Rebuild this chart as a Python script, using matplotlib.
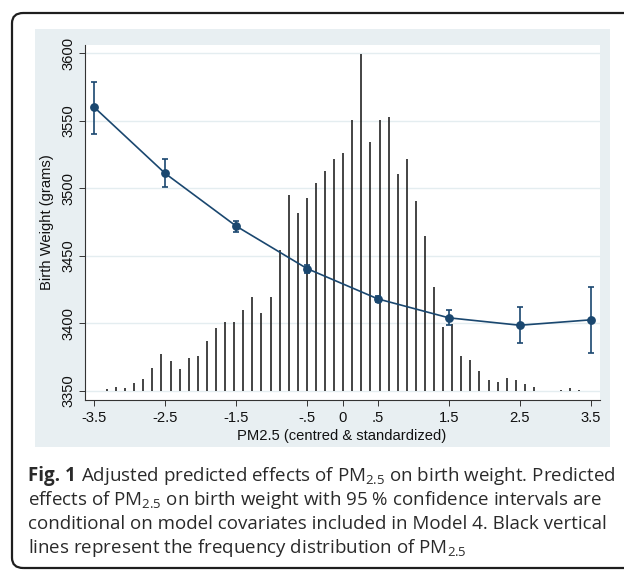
import numpy as np
import matplotlib
matplotlib.use("Agg")
import matplotlib.pyplot as plt
from matplotlib.patches import FancyBboxPatch, Rectangle

# ---------------- data ----------------
pm_levels = [-3.5, -2.5, -1.5, -0.5, 0.5, 1.5, 2.5, 3.5]
pred_bw = [3560, 3511, 3472, 3440.5, 3418, 3404, 3398.5, 3402.5]
ci_low = [3540, 3501, 3467.5, 3437.5, 3415.5, 3398.5, 3385, 3378]
ci_high = [3579, 3521.5, 3476, 3443.5, 3420.5, 3410, 3412, 3426.5]

# frequency distribution of PM2.5 (bar heights, drawn above the 3350 baseline)
hist_start = -3.321
hist_width = 0.1281
hist_freq = [1.3, 2.5, 2.0, 5.8, 9.0, 16.9, 27.0, 22.3, 16.1, 24.0, 25.8, 36.6,
             46.3, 51.0, 51.0, 60.0, 69.1, 57.4, 69.1, 104.5, 145.3, 131.4,
             142.8, 154.2, 162.8, 171.8, 176.5, 200.3, 249.3, 184.4, 200.3,
             203.2, 160.9, 171.8, 140.9, 114.9, 76.7, 47.0, 49.6, 26.0, 22.8,
             14.9, 8.2, 6.7, 9.5, 8.0, 5.2, 2.5, 0.0, 0.0, 0.8, 1.7, 0.3]
hist_base = 3350

xticks = [-3.5, -2.5, -1.5, -0.5, 0, 0.5, 1.5, 2.5, 3.5]
xtick_labels = ["-3.5", "-2.5", "-1.5", "-.5", "0", ".5", "1.5", "2.5", "3.5"]
yticks = [3350, 3400, 3450, 3500, 3550, 3600]

plt.rcParams["mathtext.fontset"] = "custom"
plt.rcParams["mathtext.rm"] = "Open Sans"
plt.rcParams["mathtext.it"] = "Open Sans"
plt.rcParams["mathtext.bf"] = "Open Sans"

# ---------------- figure ----------------
W, H = 624, 571
fig = plt.figure(figsize=(W / 100, H / 100), dpi=100)
fig.patch.set_facecolor("white")

def fx(px):
    return px / W

def fy(py):
    return 1 - py / H

# outer rounded frame
frame = FancyBboxPatch((fx(12), fy(568)), fx(660) - fx(12), fy(13) - fy(568),
                       boxstyle="round,pad=0,rounding_size=0.018",
                       transform=fig.transFigure, facecolor="none",
                       edgecolor="#1e1e1e", linewidth=1.6, zorder=-5)
fig.patches.append(frame)

# Stata graph region
greg = Rectangle((fx(35), fy(447)), fx(610) - fx(35), fy(29) - fy(447),
                 transform=fig.transFigure, facecolor="#e8eff2",
                 edgecolor="none", zorder=-5)
fig.patches.append(greg)

ax = fig.add_axes([fx(85), fy(400), fx(600) - fx(85), fy(45) - fy(400)])
ax.set_zorder(2)
ax.set_facecolor("white")
ax.set_xlim(-3.631, 3.631)
ax.set_ylim(3343.1, 3606.2)

for yt in yticks:
    ax.axhline(yt, color="#e4edf0", linewidth=1.0, zorder=1)

hx = hist_start + hist_width * np.arange(len(hist_freq))
hf = np.array(hist_freq)
mask = hf > 0
ax.vlines(hx[mask], hist_base, hist_base + hf[mask], color="#111111",
          linewidth=1.1, zorder=2)

navy = "#1a476f"
ax.plot(pm_levels, pred_bw, color=navy, linewidth=1.2, zorder=3)
yerr = [np.array(pred_bw) - np.array(ci_low), np.array(ci_high) - np.array(pred_bw)]
ax.errorbar(pm_levels, pred_bw, yerr=yerr, fmt="o", color=navy, ms=5.3,
            elinewidth=1.2, capsize=2.4, capthick=1.2, zorder=4)

for s in ["top", "right"]:
    ax.spines[s].set_visible(False)
for s in ["left", "bottom"]:
    ax.spines[s].set_color("#333333")
    ax.spines[s].set_linewidth(0.8)

ax.set_xticks(xticks)
ax.set_xticklabels(xtick_labels)
ax.set_yticks(yticks)
ax.tick_params(axis="both", direction="out", length=4.5, width=0.7,
               color="#333333", labelsize=10.6, labelcolor="#111111")
ax.tick_params(axis="y", pad=2.5)
ax.tick_params(axis="x", pad=3.5)
for lbl in ax.get_yticklabels() + ax.get_xticklabels():
    lbl.set_fontfamily("Liberation Sans")
for lbl in ax.get_yticklabels():
    lbl.set_rotation(90)
    lbl.set_va("center")

fig.text(fx(47), fy(222), "Birth Weight (grams)", rotation=90, ha="center",
         va="center", fontsize=10.6, family="Liberation Sans", color="#111111")
fig.text(fx(342), fy(436), "PM2.5 (centred & standardized)", ha="center",
         va="center", fontsize=10.6, family="Liberation Sans", color="#111111")

# ---------------- caption ----------------
cap_kw = dict(fontsize=13.5, family="Open Sans", color="#2a2a2a",
              va="baseline", ha="left")
fig.text(fx(28), fy(481), "Fig. 1", fontweight="bold", **cap_kw)
fig.text(fx(81), fy(481),
         r"Adjusted predicted effects of PM$_{\mathrm{2.5}}$ on birth weight. Predicted",
         **cap_kw)
fig.text(fx(28), fy(505),
         r"effects of PM$_{\mathrm{2.5}}$ on birth weight with 95 % confidence intervals are",
         **cap_kw)
fig.text(fx(28), fy(529),
         "conditional on model covariates included in Model 4. Black vertical",
         **cap_kw)
fig.text(fx(28), fy(553),
         r"lines represent the frequency distribution of PM$_{\mathrm{2.5}}$",
         **cap_kw)

fig.savefig("out.png", dpi=100)
